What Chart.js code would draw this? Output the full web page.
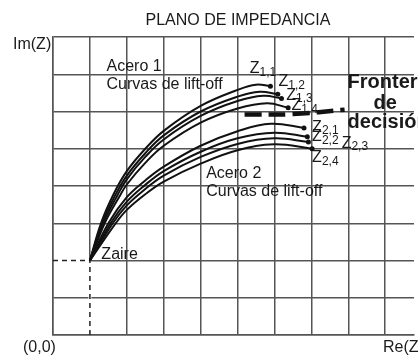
<!DOCTYPE html>
<html>
<head>
<meta charset="utf-8">
<script src="https://cdn.jsdelivr.net/npm/chart.js@4.4.1/dist/chart.umd.min.js"></script>
<style>
  html, body { margin: 0; padding: 0; background: #fff; }
  #wrap { width: 418px; height: 356px; }
</style>
</head>
<body>
<div id="wrap"><canvas id="myChart"></canvas></div>
<script>
// grid / axis values (Re and Im in grid units)
const xTicks = [0, 1, 2, 3, 4, 5, 6, 7, 8, 9];
const yTicks = [0, 1, 2, 3, 4, 5, 6, 7, 8];
const zaire = [1, 2];

// Acero 1 lift-off curves
const z11 = [[1, 2], [1.3, 3], [1.65, 3.8], [2, 4.4], [2.5, 5.0], [3, 5.48], [4, 6.15], [5, 6.58], [5.5, 6.72], [5.89, 6.68]];
const z12 = [[1, 2], [1.33, 3], [1.7, 3.78], [2, 4.28], [2.5, 4.88], [3, 5.36], [4, 6.0], [5, 6.4], [5.6, 6.53], [6.09, 6.46]];
const z13 = [[1, 2], [1.36, 3], [1.75, 3.76], [2, 4.18], [2.5, 4.78], [3, 5.25], [4, 5.88], [5, 6.28], [5.7, 6.42], [6.19, 6.35]];
const z14 = [[1, 2], [1.4, 3], [1.8, 3.72], [2, 4.04], [2.5, 4.62], [3, 5.08], [4, 5.7], [5, 6.08], [5.8, 6.22], [6.37, 6.1]];
// Acero 2 lift-off curves
const z21 = [[1, 2], [1.5, 3], [2, 3.7], [2.5, 4.15], [3, 4.52], [4, 5.08], [5, 5.47], [5.9, 5.67], [6.8, 5.56]];
const z22 = [[1, 2], [1.56, 3], [2, 3.58], [2.5, 4.03], [3, 4.4], [4, 4.92], [5, 5.28], [6, 5.43], [6.89, 5.32]];
const z23 = [[1, 2], [1.62, 3], [2, 3.48], [2.5, 3.92], [3, 4.28], [4, 4.78], [5, 5.13], [6, 5.28], [6.92, 5.18]];
const z24 = [[1, 2], [1.7, 3], [2, 3.36], [2.5, 3.78], [3, 4.12], [4, 4.6], [5, 4.96], [6, 5.12], [7.02, 5.0]];
// decision boundary
const frontera = [[5.19, 5.92], [6.5, 5.93], [7.9, 6.05]];

const curveNames = ['1,1', '1,2', '1,3', '1,4', '2,1', '2,2', '2,3', '2,4'];
const curves = [z11, z12, z13, z14, z21, z22, z23, z24];

const toPts = arr => arr.map(p => ({ x: p[0], y: p[1] }));
const FONT = '"Liberation Sans", Arial, sans-serif';

const datasets = curves.map((c, i) => ({
    label: 'Z' + curveNames[i],
    data: toPts(c),
    borderColor: '#111',
    backgroundColor: '#111',
    borderWidth: 2,
    tension: 0.4,
    pointRadius: c.map((p, j) => j === c.length - 1 ? 2.5 : 0),
    pointBorderWidth: 0
}));

datasets.push({
    label: 'Frontera',
    data: toPts(frontera),
    borderColor: '#111',
    borderWidth: 4.5,
    borderDash: [17, 7],
    tension: 0.4,
    pointRadius: 0
});
datasets.push({
    label: 'Zaire-h',
    data: [{ x: 0, y: zaire[1] }, { x: zaire[0], y: zaire[1] }],
    borderColor: '#222',
    borderWidth: 1.5,
    borderDash: [5, 4],
    pointRadius: 0
});
datasets.push({
    label: 'Zaire-v',
    data: [{ x: zaire[0], y: 0 }, { x: zaire[0], y: zaire[1] }],
    borderColor: '#222',
    borderWidth: 1.5,
    borderDash: [5, 4],
    pointRadius: 0
});

const textPlugin = {
    id: 'texts',
    beforeDatasetsDraw(chart) {
        // clear the grid under the dashed Zaire lines
        const { ctx, scales: { x, y } } = chart;
        ctx.save();
        ctx.strokeStyle = '#fff';
        ctx.lineWidth = 3;
        ctx.beginPath();
        ctx.moveTo(x.getPixelForValue(0) + 1, y.getPixelForValue(zaire[1]));
        ctx.lineTo(x.getPixelForValue(zaire[0]) - 1, y.getPixelForValue(zaire[1]));
        ctx.moveTo(x.getPixelForValue(zaire[0]), y.getPixelForValue(0) - 1);
        ctx.lineTo(x.getPixelForValue(zaire[0]), y.getPixelForValue(zaire[1]) + 1);
        ctx.stroke();
        ctx.restore();
    },
    afterDraw(chart) {
        const { ctx, scales: { x, y } } = chart;
        const px = v => x.getPixelForValue(v);
        const py = v => y.getPixelForValue(v);
        ctx.save();
        ctx.fillStyle = '#1a1a1a';
        ctx.textBaseline = 'middle';

        ctx.font = '16px ' + FONT;
        ctx.textAlign = 'center';
        ctx.fillText('PLANO DE IMPEDANCIA', 238, 21);
        ctx.textAlign = 'left';
        ctx.fillText('Im(Z)', 13, 45);
        ctx.fillText('(0,0)', 23, 348);
        ctx.fillText('Re(Z)', 383, 348);

        ctx.fillText('Acero 1', px(1.45), py(7.2));
        ctx.fillText('Curvas de lift-off', px(1.45), py(6.71));
        ctx.fillText('Acero 2', px(4.15), py(4.32));
        ctx.fillText('Curvas de lift-off', px(4.15), py(3.84));
        ctx.fillText('Zaire', px(1.31), py(2.17));

        const zPos = [[5.33, 7.14], [6.11, 6.79], [6.32, 6.44], [6.46, 6.15],
                      [7.02, 5.58], [7.02, 5.32], [7.82, 5.15], [7.02, 4.75]];
        zPos.forEach((p, i) => {
            ctx.font = '16px ' + FONT;
            const zx = px(p[0]), zy = py(p[1]);
            ctx.fillText('Z', zx, zy);
            const w = ctx.measureText('Z').width;
            ctx.font = '12px ' + FONT;
            ctx.fillText(curveNames[i], zx + w, zy + 4);
        });

        ctx.font = 'bold 20px ' + FONT;
        ctx.textAlign = 'center';
        ctx.fillText('Frontera', px(9.08), py(6.77));
        ctx.fillText('de', px(9.0), py(6.21));
        ctx.fillText('decisión', px(9.08), py(5.7));
        ctx.restore();
    }
};

const ctx = document.getElementById('myChart').getContext('2d');
const myChart = new Chart(ctx, {
    type: 'line',
    data: { datasets: datasets },
    options: {
        responsive: true,
        maintainAspectRatio: false,
        animation: false,
        events: [],
        layout: { padding: { left: 53, top: 37, right: 0, bottom: 21 } },
        plugins: { legend: { display: false }, tooltip: { enabled: false } },
        scales: {
            x: {
                type: 'linear',
                min: 0,
                max: 9.78,
                afterBuildTicks: s => { s.ticks = xTicks.map(v => ({ value: v })); },
                ticks: { display: false },
                grid: { color: '#555', lineWidth: 1.5, drawTicks: false },
                border: { color: '#555', width: 1.5 }
            },
            y: {
                type: 'linear',
                min: 0,
                max: 8,
                afterBuildTicks: s => { s.ticks = yTicks.map(v => ({ value: v })); },
                ticks: { display: false },
                grid: { color: '#555', lineWidth: 1.5, drawTicks: false },
                border: { color: '#555', width: 1.5 }
            }
        }
    },
    plugins: [textPlugin]
});
</script>
</body>
</html>
